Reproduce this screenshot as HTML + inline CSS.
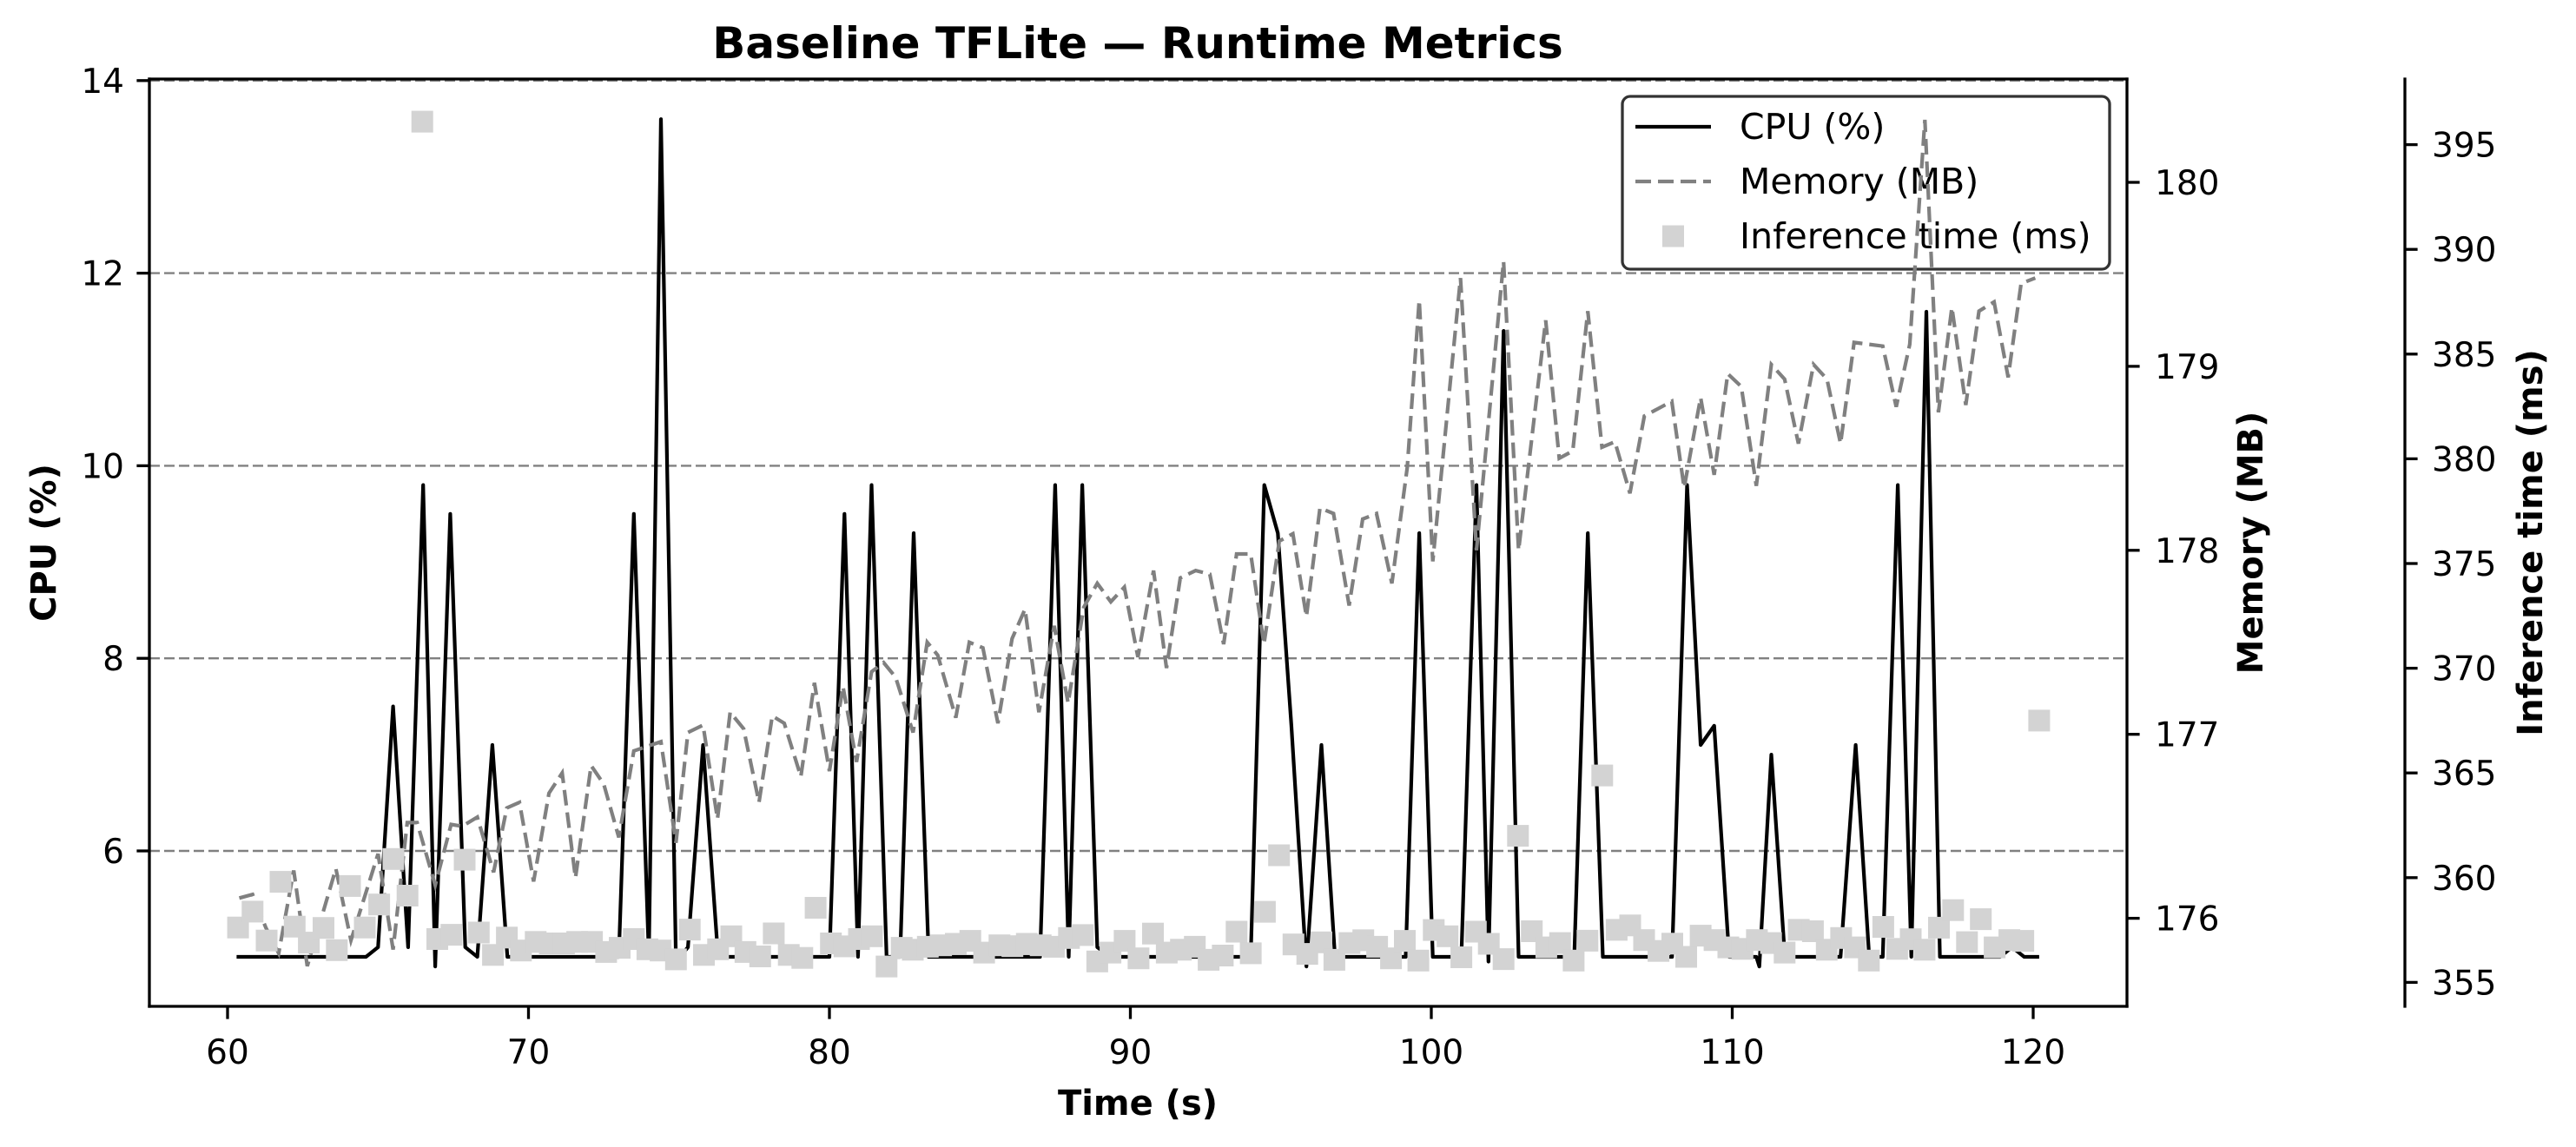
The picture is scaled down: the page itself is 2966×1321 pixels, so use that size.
<!DOCTYPE html>
<html>
<head>
<meta charset="utf-8">
<style>
html,body{margin:0;padding:0;background:#fff;}
svg{display:block;font-family:"DejaVu Sans","Liberation Sans",sans-serif;}
</style>
</head>
<body>
<svg id="chart" width="2966" height="1321" viewBox="0 0 2966 1321" xmlns="http://www.w3.org/2000/svg">
  <rect x="0" y="0" width="2966" height="1321" fill="#ffffff"/>
  <g id="grid"></g>
  <g id="cpuLayer"></g>
  <g id="legend"></g>
  <g id="memLayer"></g>
  <g id="infLayer"></g>
  <g id="axes"></g>
  <text x="1310" y="67" text-anchor="middle" font-size="50" font-weight="bold">Baseline TFLite — Runtime Metrics</text>
  <text x="1310" y="1284" text-anchor="middle" font-size="40" font-weight="bold">Time (s)</text>
  <text transform="translate(51,625) rotate(-90)" text-anchor="middle" dominant-baseline="central" font-size="40" font-weight="bold">CPU (%)</text>
  <text transform="translate(2592,625) rotate(-90)" text-anchor="middle" dominant-baseline="central" font-size="40" font-weight="bold">Memory (MB)</text>
  <text transform="translate(2914,625) rotate(-90)" text-anchor="middle" dominant-baseline="central" font-size="40" font-weight="bold">Inference time (ms)</text>
</svg>
<script>
const xTicks = [60, 70, 80, 90, 100, 110, 120];
const cpuTicks = [6, 8, 10, 12, 14];
const memTicks = [176, 177, 178, 179, 180];
const infTicks = [355, 360, 365, 370, 375, 380, 385, 390, 395];

const cpuTimes = [60.3,64.6,65.0,65.5,66.0,66.5,66.9,67.4,67.9,68.3,68.8,69.3,73.0,73.5,74.0,74.4,74.9,75.3,75.8,76.3,80.0,80.5,80.95,81.4,81.9,82.35,82.8,83.3,87.0,87.5,87.95,88.4,88.9,89.35,94.0,94.45,94.9,95.35,95.85,96.35,96.8,99.15,99.6,100.05,101.0,101.5,101.9,102.4,102.9,104.75,105.2,105.7,108.0,108.5,108.95,109.4,109.9,110.8,110.9,111.3,111.75,113.6,114.1,114.55,115.0,115.5,115.95,116.45,116.9,118.9,119.3,119.7,120.2];
const cpuValues = [4.9,4.9,5.0,7.5,5.0,9.8,4.8,9.5,5.0,4.9,7.1,4.9,4.9,9.5,4.9,13.6,4.85,5.0,7.1,4.9,4.9,9.5,4.9,9.8,4.9,4.9,9.3,4.9,4.9,9.8,4.9,9.8,5.0,4.9,4.9,9.8,9.3,7.3,4.8,7.1,4.9,4.9,9.3,4.9,4.9,9.8,4.85,11.4,4.9,4.9,9.3,4.9,4.9,9.8,7.1,7.3,4.9,4.9,4.8,7.0,4.9,4.9,7.1,4.9,4.9,9.8,4.9,11.6,4.9,4.9,5.0,4.9,4.9];

const memTimes = [60.39,60.83,61.27,61.7,62.2,62.65,63.6,64.1,65.0,65.5,65.97,66.3,66.9,67.43,67.8,68.3,68.84,69.28,69.7,70.17,70.68,71.12,71.56,72.08,72.5,73.0,73.5,74.4,74.9,75.3,75.8,76.28,76.7,77.15,77.66,78.1,78.5,79.05,79.5,80.0,80.45,80.9,81.4,81.8,82.2,82.78,83.25,83.6,84.2,84.65,85.1,85.6,86.07,86.5,86.96,87.47,87.93,88.45,88.9,89.35,89.8,90.25,90.77,91.2,91.66,92.17,92.64,93.1,93.53,94.0,94.44,94.95,95.4,95.85,96.3,96.75,97.27,97.72,98.18,98.69,99.2,99.6,100.05,100.97,101.5,102.4,102.9,103.8,104.25,104.7,105.2,105.67,106.1,106.6,107.08,107.99,108.4,108.95,109.4,109.85,110.3,110.8,111.3,111.74,112.2,112.7,113.15,113.6,114.05,115.0,115.45,115.9,116.4,116.85,117.3,117.76,118.2,118.7,119.17,119.6,120.07];
const memValues = [176.11,176.13,175.95,175.81,176.26,175.74,176.27,175.88,176.35,175.83,176.52,176.52,176.18,176.51,176.5,176.55,176.25,176.6,176.63,176.2,176.68,176.79,176.22,176.83,176.73,176.44,176.91,176.96,176.41,177.01,177.05,176.54,177.12,177.03,176.63,177.10,177.06,176.77,177.28,176.80,177.26,176.85,177.34,177.39,177.31,177.01,177.50,177.43,177.09,177.50,177.47,177.06,177.52,177.68,177.12,177.59,177.17,177.69,177.82,177.72,177.80,177.42,177.89,177.36,177.85,177.89,177.87,177.49,177.98,177.98,177.49,178.05,178.09,177.64,178.23,178.20,177.70,178.17,178.20,177.82,178.45,179.36,177.94,179.48,178.0,179.57,178.0,179.25,178.50,178.54,179.30,178.56,178.59,178.31,178.73,178.81,178.34,178.83,178.41,178.96,178.89,178.35,179.01,178.93,178.58,179.01,178.93,178.58,179.13,179.11,178.78,179.12,180.34,178.75,179.32,178.79,179.30,179.35,178.94,179.45,179.48];

const infTimes = [60.35,60.83,61.3,61.76,62.23,62.7,63.19,63.63,64.07,64.56,65.04,65.51,65.98,66.47,66.97,67.44,67.88,68.35,68.82,69.28,69.75,70.24,70.71,71.18,71.62,72.11,72.58,73.03,73.5,73.95,74.39,74.9,75.36,75.83,76.3,76.74,77.21,77.7,78.15,78.65,79.1,79.54,80.05,80.5,80.98,81.41,81.9,82.4,
82.77,83.27,83.71,84.2,84.68,85.14,85.65,86.08,86.56,87.02,87.46,87.96,88.42,88.9,89.34,89.81,90.27,90.75,91.21,91.68,92.14,92.6,93.07,93.53,94.0,94.47,94.94,95.42,95.88,96.35,96.78,97.28,97.74,98.2,98.66,99.12,99.57,100.08,100.54,101.0,101.48,101.91,
102.4,102.88,103.34,103.82,104.28,104.73,105.19,105.68,106.16,106.61,107.07,107.55,108.01,108.47,108.95,109.41,109.87,110.34,110.82,111.29,111.74,112.21,112.68,113.14,113.62,114.08,114.54,115.02,115.48,115.93,116.39,116.87,117.34,117.8,118.26,118.72,119.21,119.67,120.2];
const infValues = [357.62,358.38,357.0,359.8,357.66,356.9,357.6,356.54,359.6,357.62,358.72,360.89,359.14,396.1,357.07,357.27,360.86,357.38,356.31,357.14,356.52,356.93,356.86,356.86,356.93,356.93,356.45,356.65,357.07,356.58,356.52,356.1,357.52,356.31,356.58,357.2,356.45,356.24,357.34,356.31,356.17,358.56,356.86,356.72,357.07,357.2,355.76,356.65,
356.56,356.70,356.77,356.84,356.98,356.42,356.77,356.73,356.84,356.77,356.70,357.12,357.26,356.0,356.42,356.98,356.15,357.33,356.42,356.56,356.70,356.08,356.28,357.42,356.39,358.37,361.07,356.81,356.36,356.91,356.08,356.88,357.01,356.70,356.15,356.98,356.04,357.5,357.2,356.2,357.42,356.84,
356.11,362.0,357.44,356.67,356.88,356.04,356.99,364.88,357.51,357.72,357.02,356.50,356.85,356.22,357.23,357.02,356.67,356.6,357.02,356.88,356.42,357.51,357.44,356.56,357.12,356.67,356.04,357.65,356.6,357.06,356.56,357.61,358.45,356.92,358.02,356.67,357.02,356.98,367.5];

const legendLabels = ["CPU (%)", "Memory (MB)", "Inference time (ms)"];

const NS = "http://www.w3.org/2000/svg";
const PL = 172, PR = 2449, PT = 91, PB = 1159, AX3 = 2769;
function xS(t){ return 262 + (t - 60) * 34.65; }
function yCpu(v){ return 980 - (v - 6) * 110.9; }
function yMem(m){ return 1057.6 - (m - 176) * 211.9; }
function yInf(v){ return 1131.4 - (v - 355) * 24.12; }
function mk(tag, attrs, parent){
  const e = document.createElementNS(NS, tag);
  for (const k in attrs) e.setAttribute(k, attrs[k]);
  parent.appendChild(e);
  return e;
}

const grid = document.getElementById('grid');
cpuTicks.forEach(v => {
  const l = mk('line', {x1: PL, x2: PR, y1: yCpu(v), y2: yCpu(v), stroke: '#808080', 'stroke-width': 2.4, 'stroke-dasharray': '12,5'}, grid);
  
  
});

const cpuLayer = document.getElementById('cpuLayer');
const cpuPath = mk('path', {d: cpuTimes.map((t,i) => (i ? 'L' : 'M') + xS(t).toFixed(1) + ',' + yCpu(cpuValues[i]).toFixed(1)).join(' '), fill: 'none', stroke: '#000', 'stroke-width': 4.2, 'stroke-linejoin': 'round'}, cpuLayer);



const lg = document.getElementById('legend');
const frame = mk('rect', {x: 1868, y: 111, width: 561, height: 199, rx: 9, ry: 9, fill: '#ffffff', 'fill-opacity': 0.85, stroke: '#333', 'stroke-width': 3.3}, lg);


const rowsY = [146, 209, 272];
const h1 = mk('line', {x1: 1883, x2: 1970, y1: rowsY[0], y2: rowsY[0], stroke: '#000', 'stroke-width': 4.2}, lg);


const h2 = mk('line', {x1: 1883, x2: 1970, y1: rowsY[1], y2: rowsY[1], stroke: '#808080', 'stroke-width': 4.2, 'stroke-dasharray': '18,8'}, lg);


const h3 = mk('rect', {x: 1914, y: rowsY[2] - 12.5, width: 25, height: 25, fill: '#d3d3d3'}, lg);


legendLabels.forEach((s, i) => {
  const t = mk('text', {x: 2003, y: rowsY[i] + 14, 'font-size': 41}, lg);
  t.textContent = s;
  
  
});

const memLayer = document.getElementById('memLayer');
const memPath = mk('path', {d: memTimes.map((t,i) => (i ? 'L' : 'M') + xS(t).toFixed(1) + ',' + yMem(memValues[i]).toFixed(1)).join(' '), fill: 'none', stroke: '#808080', 'stroke-width': 4.2, 'stroke-dasharray': '18,8'}, memLayer);



const infLayer = document.getElementById('infLayer');
infTimes.forEach((t, i) => {
  const r = mk('rect', {x: (xS(t) - 12.5).toFixed(1), y: (yInf(infValues[i]) - 12.5).toFixed(1), width: 25, height: 25, fill: '#d3d3d3'}, infLayer);
  
  
});

const ax = document.getElementById('axes');
const frameSp = [[PL,PT,PL,PB],[PL,PB,PR,PB],[PR,PT,PR,PB],[PL,PT,PR,PT],[AX3,PT,AX3,PB]];
frameSp.forEach((s, i) => {
  const l = mk('line', {x1: s[0], y1: s[1], x2: s[2], y2: s[3], stroke: '#000', 'stroke-width': 3.3, 'stroke-linecap': 'square'}, ax);
  
  
});
xTicks.forEach(v => {
  const x = xS(v);
  mk('line', {x1: x, x2: x, y1: PB, y2: PB + 14.6, stroke: '#000', 'stroke-width': 3.3}, ax);
  const t = mk('text', {x: x, y: 1225, 'text-anchor': 'middle', 'font-size': 39}, ax);
  t.textContent = v;
  
  
});
cpuTicks.forEach(v => {
  const y = yCpu(v);
  mk('line', {x1: PL - 14.6, x2: PL, y1: y, y2: y, stroke: '#000', 'stroke-width': 3.3}, ax);
  const t = mk('text', {x: 143, y: y + 14, 'text-anchor': 'end', 'font-size': 39}, ax);
  t.textContent = v;
  
  
});
memTicks.forEach(v => {
  const y = yMem(v);
  mk('line', {x1: PR, x2: PR + 14.6, y1: y, y2: y, stroke: '#000', 'stroke-width': 3.3}, ax);
  const t = mk('text', {x: 2481, y: y + 14, 'font-size': 39}, ax);
  t.textContent = v;
  
  
});
infTicks.forEach(v => {
  const y = yInf(v);
  mk('line', {x1: AX3, x2: AX3 + 14.6, y1: y, y2: y, stroke: '#000', 'stroke-width': 3.3}, ax);
  const t = mk('text', {x: 2800, y: y + 14, 'font-size': 39}, ax);
  t.textContent = v;
  
  
});
</script>
</body>
</html>
